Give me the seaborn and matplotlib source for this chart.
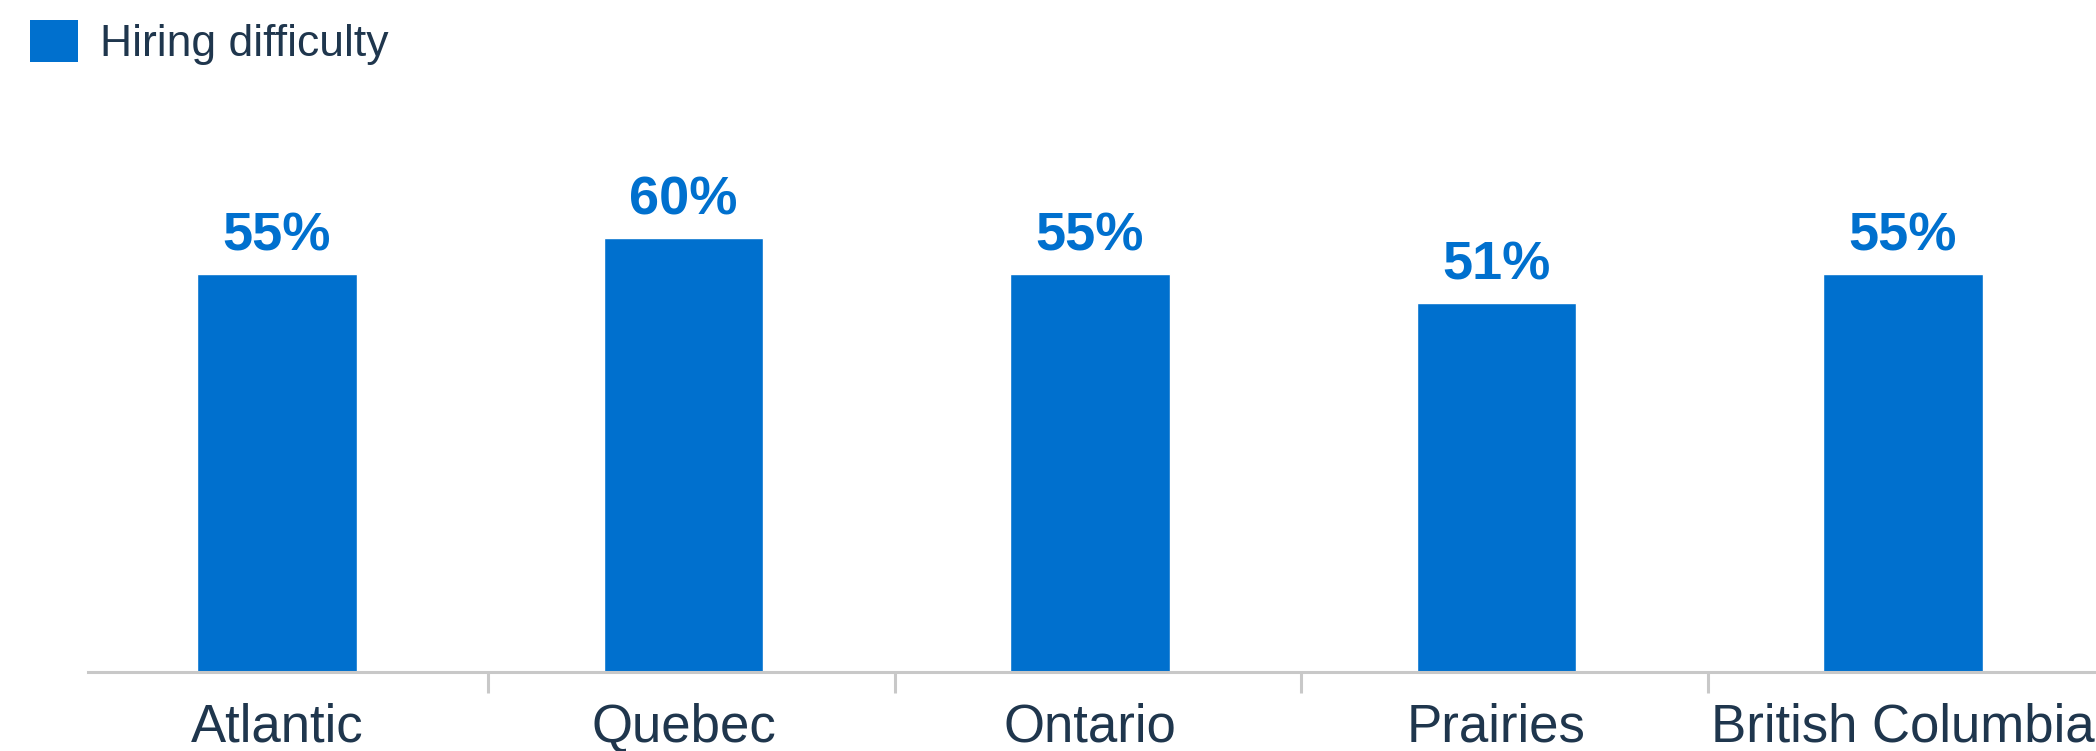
import matplotlib
matplotlib.use("Agg")
import matplotlib.pyplot as plt
from matplotlib.patches import Patch
import seaborn as sns
import pandas as pd

regions = ["Atlantic", "Quebec", "Ontario", "Prairies", "British Columbia"]
values = [55, 60, 55, 51, 55]
series_name = "Hiring difficulty"

BAR = "#0070CE"
TEXT = "#1F364D"
AXIS = "#C8C8C8"

sns.set_theme(style="white")
plt.rcParams["font.family"] = ["Liberation Sans", "DejaVu Sans"]

df = pd.DataFrame({"region": regions, "value": values})

fig = plt.figure(figsize=(20.96, 7.51), dpi=100)
ax = fig.add_axes([88 / 2096, 79 / 751, 1 - 88 / 2096, (658 - 79) / 751])

sns.barplot(data=df, x="region", y="value", color=BAR, width=0.392,
            saturation=1, ax=ax, order=regions)

for c in ax.containers:
    ax.bar_label(c, labels=[f"{v}%" for v in values], padding=9,
                 fontsize=39, fontweight="bold", color=BAR)

ax.set_xlim(-0.465, 4.475)
ax.set_ylim(0, 80)
ax.set_xlabel("")
ax.set_ylabel("")
ax.set_yticks([])
for s in ["top", "right", "left"]:
    ax.spines[s].set_visible(False)
ax.spines["bottom"].set_color(AXIS)
ax.spines["bottom"].set_linewidth(2.2)

ax.set_xticks(range(len(regions)))
ax.set_xticklabels(regions, fontsize=38, color=TEXT)
ax.tick_params(axis="x", which="major", length=0, pad=22, bottom=True)
ax.set_xticks([i + 0.52 for i in range(len(regions) - 1)], minor=True)
ax.tick_params(axis="x", which="minor", length=15, width=2.2, color=AXIS,
               bottom=True, direction="out")

handle = Patch(facecolor=BAR, edgecolor="none", label=series_name)
fig.legend(handles=[handle], loc="upper left",
           bbox_to_anchor=(30 / 2096, 1 - 20 / 751),
           frameon=False, fontsize=32, labelcolor=TEXT,
           handlelength=1.08, handleheight=1.08, handletextpad=0.5,
           borderaxespad=0.0, borderpad=0.0)

fig.savefig("out.png", dpi=100)
